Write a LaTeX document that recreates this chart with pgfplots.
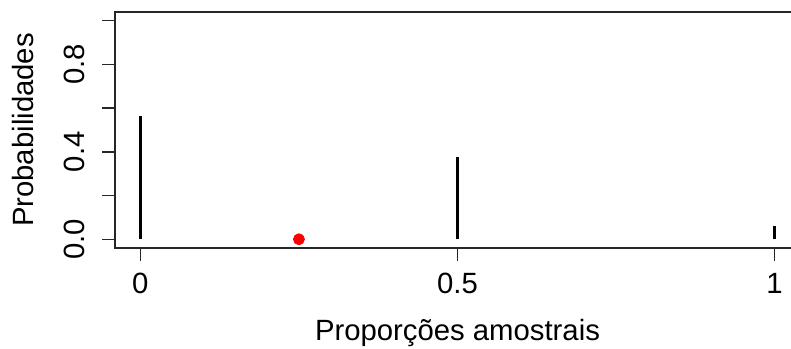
\documentclass[border=0pt]{standalone}
\usepackage{pgfplots}
\pgfplotsset{compat=1.18}
\usepackage{fontspec}
\setmainfont{Liberation Sans}
\begin{document}
\fontsize{14.65bp}{17bp}\selectfont
\begin{tikzpicture}
\begin{scope}
\clip (-57.5bp,-50.5bp) rectangle (338bp,124bp);
\begin{axis}[
  at={(0,0)}, anchor=south west,
  scale only axis, width=342.5bp, height=118bp,
  xmin=-0.04, xmax=1.04, ymin=-0.04, ymax=1.04,
  axis line style={line width=0.75bp, black!85},
  tick style={line width=0.75bp, black!85},
  tick align=outside, major tick length=6.5bp, tick pos=left,
  xtick={0,0.5,1}, xticklabels={0,0.5,1},
  ytick={0,0.2,0.4,0.6,0.8,1}, yticklabels={0.0,{},0.4,{},0.8,{}},
  xticklabel style={yshift=-16bp, anchor=base, inner sep=0pt},
  yticklabel style={xshift=-8.5bp, rotate=90, anchor=base, inner sep=0pt},
  xlabel={Proporções amostrais}, ylabel={Probabilidades},
  x label style={at={([yshift=-46bp]axis description cs:0.5,0)}, anchor=base, inner sep=0pt},
  y label style={at={([xshift=-40.5bp]axis description cs:0,0.5)}, anchor=base, inner sep=0pt},
  clip=false,
]
\addplot[ycomb, line width=1.5bp, black] coordinates {(0,0.5625) (0.5,0.375) (1,0.0625)};
\addplot[only marks, mark=*, red, mark size=2.75bp] coordinates {(0.25,0)};
\end{axis}
\end{scope}
\pgfresetboundingbox
\path[use as bounding box] (-57.5bp,-50.5bp) rectangle (338bp,124bp);
\end{tikzpicture}
\end{document}
